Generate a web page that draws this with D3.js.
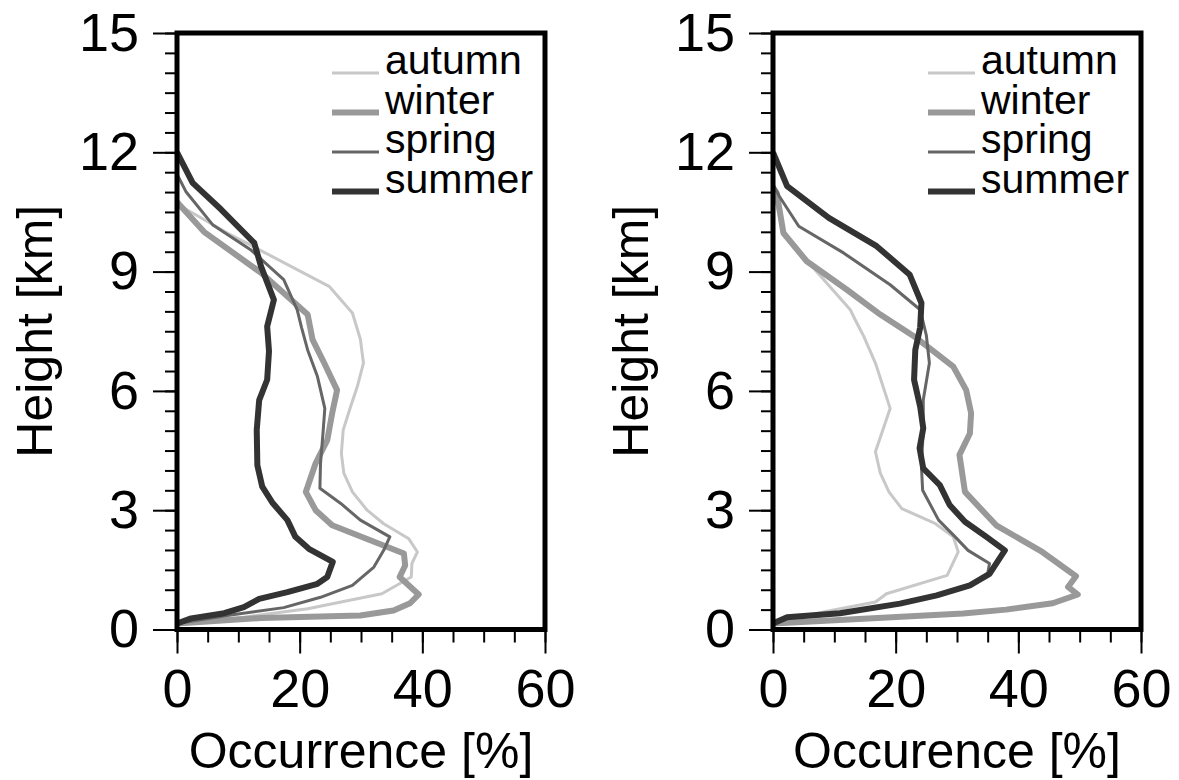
<!DOCTYPE html>
<html>
<head>
<meta charset="utf-8">
<script src="https://cdn.jsdelivr.net/npm/d3@7"></script>
<style>
    body { margin: 0; background: #fff; }
    svg { display: block; font-family: "Liberation Sans", Arial, Helvetica, sans-serif; }
    .axis path.domain { display: none; }
    .axis line { stroke: #000; stroke-width: 2; }
    .axis text { font-size: 54px; fill: #000; }
    .frame { fill: none; stroke: #000; stroke-width: 5; }
    .profile { fill: none; stroke-linejoin: round; stroke-linecap: butt; }
    .legend text { font-size: 41px; fill: #000; }
    .title { font-size: 50px; fill: #000; }
</style>
</head>
<body>
<div id="chart"></div>
<script>
// seasons, drawing order = legend order
const seasons = ['autumn', 'winter', 'spring', 'summer'];
const seasonColor = ['#c8c8c8', '#999999', '#666666', '#333333'];
const seasonWidth = [3, 6, 3, 6];

// axis ticks
const xMajor = [0, 20, 40, 60];
const yMajor = [0, 3, 6, 9, 12, 15];

// profiles as [occurrence %, height km]
// left panel
const leftAutumn = [[0,0.15],[10.9,0.31],[21.3,0.52],[33.4,0.90],[38.2,1.32],[38.3,1.66],[39.2,1.95],[37.8,2.28],[33.7,2.66],[31.0,3.0],[28.6,3.46],[27.2,3.93],[26.8,4.43],[27.1,5.02],[28.3,5.60],[29.4,6.11],[30.4,6.70],[29.9,7.3],[28.6,7.96],[24.8,8.63],[8.2,9.97],[0,10.7]];
const leftWinter = [[0,0.15],[13.7,0.29],[29.9,0.35],[35.3,0.48],[38.0,0.66],[39.4,0.88],[36.3,1.32],[37.2,1.61],[37.0,1.91],[25.3,2.62],[22.6,3.0],[21.0,3.46],[22.6,4.18],[24.5,4.76],[25.3,5.44],[26.1,6.02],[24.0,6.70],[22.1,7.29],[21.3,7.92],[13.7,8.97],[4.4,10.0],[0,10.75]];
const leftSpring = [[0,0.15],[8.2,0.35],[17.4,0.55],[23.4,0.81],[28.6,1.11],[32.1,1.57],[33.7,1.99],[34.7,2.33],[29.9,2.75],[26.7,3.17],[23.3,3.55],[23.4,4.18],[23.8,4.93],[24.1,5.56],[22.9,6.36],[21.3,7.03],[20.3,7.6],[19.6,8.04],[17.4,8.8],[12.0,9.55],[5.8,10.18],[1.5,11.0],[0,11.45]];
const leftSummer = [[0,0.15],[2.3,0.28],[7.7,0.41],[10.9,0.56],[13.4,0.77],[18.0,0.94],[22.9,1.15],[24.5,1.32],[25.4,1.70],[21.5,2.03],[19.3,2.33],[18.0,2.75],[15.6,3.18],[13.9,3.59],[13.1,4.13],[13.0,5.02],[13.4,5.77],[14.7,6.28],[15.0,7.0],[14.7,7.62],[15.8,8.29],[13.7,9.13],[12.6,9.72],[7.2,10.56],[2.55,11.23],[0,12.0]];

// right panel
const rightAutumn = [[0,0.15],[8.2,0.44],[16.7,0.69],[18.5,0.90],[28.4,1.36],[30.2,1.95],[29.4,2.33],[26.5,2.66],[21.0,3.04],[18.9,3.46],[17.5,3.93],[16.7,4.47],[19.1,5.56],[16.7,6.70],[14.8,7.37],[13.4,7.79],[12.6,8.04],[6.6,9.09],[4.8,9.4],[1.7,9.97],[0.6,10.7],[0,10.9]];
const rightWinter = [[0,0.15],[31.0,0.40],[38.0,0.50],[45.6,0.66],[49.7,0.88],[48.1,1.07],[49.4,1.34],[43.9,1.95],[36.4,2.62],[31.3,3.46],[30.4,4.39],[32.1,4.93],[32.3,5.44],[31.5,6.02],[29.4,6.61],[23.4,7.33],[17.5,7.92],[12.0,8.55],[5.5,9.26],[1.7,9.97],[0.6,10.98],[0,11.1]];
const rightSpring = [[0,0.15],[2.0,0.30],[10.5,0.41],[20.5,0.65],[26.5,0.86],[32.0,1.11],[35.0,1.40],[35.3,1.66],[31.8,1.99],[29.7,2.33],[27.0,2.75],[24.4,3.50],[24.2,4.10],[24.5,5.02],[24.5,5.77],[25.5,6.70],[25.0,7.4],[24.0,8.04],[19.1,8.67],[11.5,9.47],[4.2,10.14],[1.0,10.9],[0,11.2]];
const rightSummer = [[0,0.15],[2.3,0.31],[10.9,0.41],[20.7,0.65],[26.7,0.86],[32.1,1.11],[35.3,1.40],[37.8,1.99],[34.8,2.33],[31.3,2.71],[28.8,3.13],[27.2,3.63],[24.5,4.05],[23.9,4.56],[24.5,5.06],[24.0,5.60],[23.0,6.28],[23.2,7.03],[24.0,7.6],[24.2,8.21],[22.3,8.92],[16.9,9.64],[9.1,10.35],[2.3,11.15],[0,12.0]];

const width = 1179, height = 780;

const svg = d3.select('#chart').append('svg')
    .attr('width', width)
    .attr('height', height);

svg.append('rect')
    .attr('width', width)
    .attr('height', height)
    .attr('fill', '#fff');

// one panel = frame, axes, four profiles and a legend
function drawPanel(left, xTitle, profiles){
    const x = d3.scaleLinear([0, 60], [left, left + 368]);
    const y = d3.scaleLinear([0, 15], [629.5, 33]);

    const g = svg.append('g');

    // minor ticks first, majors with labels on top
    g.append('g').classed('axis', true)
        .attr('transform', `translate(${left},0)`)
        .call(d3.axisLeft(y).tickValues(d3.range(0, 15.01, 0.5)).tickSize(12).tickFormat(''));
    g.append('g').classed('axis', true)
        .attr('transform', `translate(${left},0)`)
        .call(d3.axisLeft(y).tickValues(yMajor).tickSize(24).tickPadding(14).tickFormat(d3.format('d')));

    g.append('g').classed('axis', true)
        .attr('transform', `translate(0,${y(0)})`)
        .call(d3.axisBottom(x).tickValues(d3.range(0, 60.01, 5)).tickSize(13).tickFormat(''));
    g.append('g').classed('axis', true)
        .attr('transform', `translate(0,${y(0)})`)
        .call(d3.axisBottom(x).tickValues(xMajor).tickSize(24).tickPadding(15).tickFormat(d3.format('d')));

    const line = d3.line()
        .x(d => x(d[0]))
        .y(d => y(d[1]));

    g.append('g').selectAll('path.profile')
        .data(profiles)
        .join('path')
        .classed('profile', true)
        .attr('d', line)
        .attr('stroke', (d, i) => seasonColor[i])
        .attr('stroke-width', (d, i) => seasonWidth[i]);

    g.append('rect')
        .classed('frame', true)
        .attr('x', x(0))
        .attr('y', y(15))
        .attr('width', x(60) - x(0))
        .attr('height', y(0) - y(15));

    // legend
    const leg = g.append('g').classed('legend', true)
        .selectAll('g')
        .data(seasons)
        .join('g')
        .attr('transform', (d, i) => `translate(${left + 155},${74 + i * 39.5})`);
    leg.append('line')
        .attr('x1', 0).attr('x2', 47)
        .attr('y1', -1).attr('y2', -1)
        .attr('stroke', (d, i) => seasonColor[i])
        .attr('stroke-width', (d, i) => seasonWidth[i]);
    leg.append('text')
        .attr('x', 53)
        .text(d => d);

    // axis titles
    g.append('text').classed('title', true)
        .attr('x', (x(0) + x(60)) / 2)
        .attr('y', 768)
        .attr('text-anchor', 'middle')
        .text(xTitle);
    g.append('text').classed('title', true)
        .attr('transform', `translate(${left - 125},${(y(0) + y(15)) / 2}) rotate(-90)`)
        .attr('text-anchor', 'middle')
        .text('Height [km]');
}

drawPanel(177, 'Occurrence [%]', [leftAutumn, leftWinter, leftSpring, leftSummer]);
drawPanel(773, 'Occurence [%]', [rightAutumn, rightWinter, rightSpring, rightSummer]);
</script>
</body>
</html>
